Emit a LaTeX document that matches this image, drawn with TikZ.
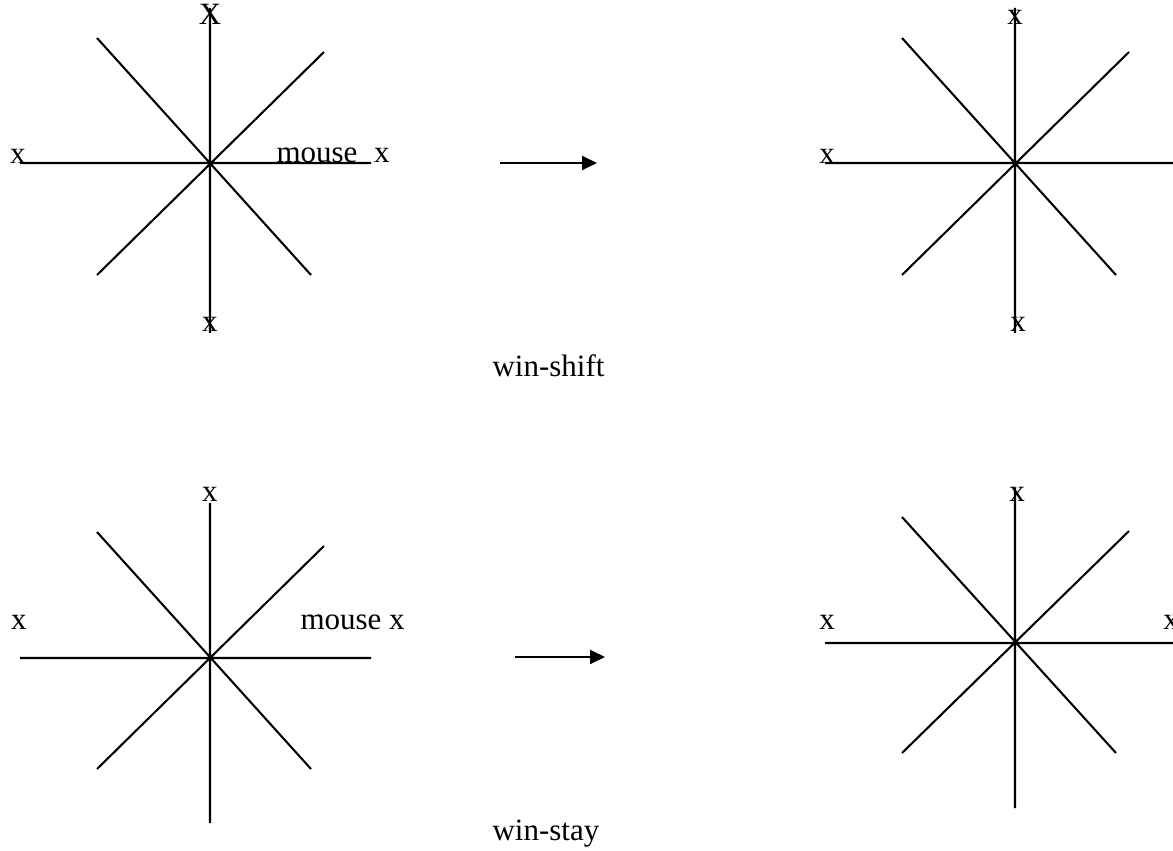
\documentclass[tikz,border=0pt]{standalone}
\usepackage{fontspec}
\setmainfont{Liberation Serif}
\usetikzlibrary{arrows.meta}

\begin{document}
\begin{tikzpicture}[x=0.387pt, y=-0.387pt,
    arm/.style={line width=0.8pt},
    lbl/.style={inner sep=0pt, anchor=base, font=\fontsize{12}{14}\selectfont},
    move/.style={line width=0.8pt, -{Triangle[length=5.8pt, width=5.4pt]}}]
    \useasboundingbox (0,0) rectangle (1173,851);
    % centres of the four mazes
    \coordinate (shiftA) at (210,163);
    \coordinate (shiftB) at (1015,163);
    \coordinate (stayA) at (210,658);
    \coordinate (stayB) at (1015,643);
    % arms
    \draw[arm] (shiftA) +(-190,0) -- +(161,0) (shiftA) +(0,-155) -- +(0,170)
        (shiftA) +(-113,-125) -- +(101,112) (shiftA) +(114,-111) -- +(-113,112);
    \draw[arm] (shiftB) +(-190,0) -- +(158,0) (shiftB) +(0,-155) -- +(0,170)
        (shiftB) +(-113,-125) -- +(101,112) (shiftB) +(114,-111) -- +(-113,112);
    \draw[arm] (stayA) +(-190,0) -- +(161,0) (stayA) +(0,-155) -- +(0,165)
        (stayA) +(-113,-126) -- +(101,111) (stayA) +(114,-112) -- +(-113,111);
    \draw[arm] (stayB) +(-190,0) -- +(158,0) (stayB) +(0,-155) -- +(0,165)
        (stayB) +(-113,-126) -- +(101,110) (stayB) +(114,-112) -- +(-113,110);
    % food marks and mouse
    \node[lbl] (sAn) at (210,25) {X};
    \node[lbl] (sAw) at (18,164) {x};
    \node[lbl] (sAm) at (317,163) {mouse};
    \node[lbl] (sAe) at (382,163) {x};
    \node[lbl] (sAs) at (210,332) {x};
    \node[lbl] (sBn) at (1015,25) {x};
    \node[lbl] (sBw) at (827,164) {x};
    \node[lbl] (sBs) at (1018,332) {x};
    \node[lbl] (tAn) at (210,502) {x};
    \node[lbl] (tAw) at (19,629) {x};
    \node[lbl, anchor=base west] (tAm) at (300,629) {mouse x};
    \node[lbl] (tBn) at (1017,502) {x};
    \node[lbl] (tBw) at (827,629) {x};
    \node[lbl] (tBe) at (1171,629) {x};
    % transitions
    \coordinate (goA) at (500,163);
    \coordinate (toA) at (597,163);
    \coordinate (goB) at (515,657);
    \coordinate (toB) at (605,657);
    \draw[move] (goA) -- (toA);
    \draw[move] (goB) -- (toB);
    \node[lbl, anchor=base west] (shiftcap) at (492,377) {win-shift};
    \node[lbl, anchor=base west] (staycap) at (492,840) {win-stay};
  \end{tikzpicture}
\end{document}
